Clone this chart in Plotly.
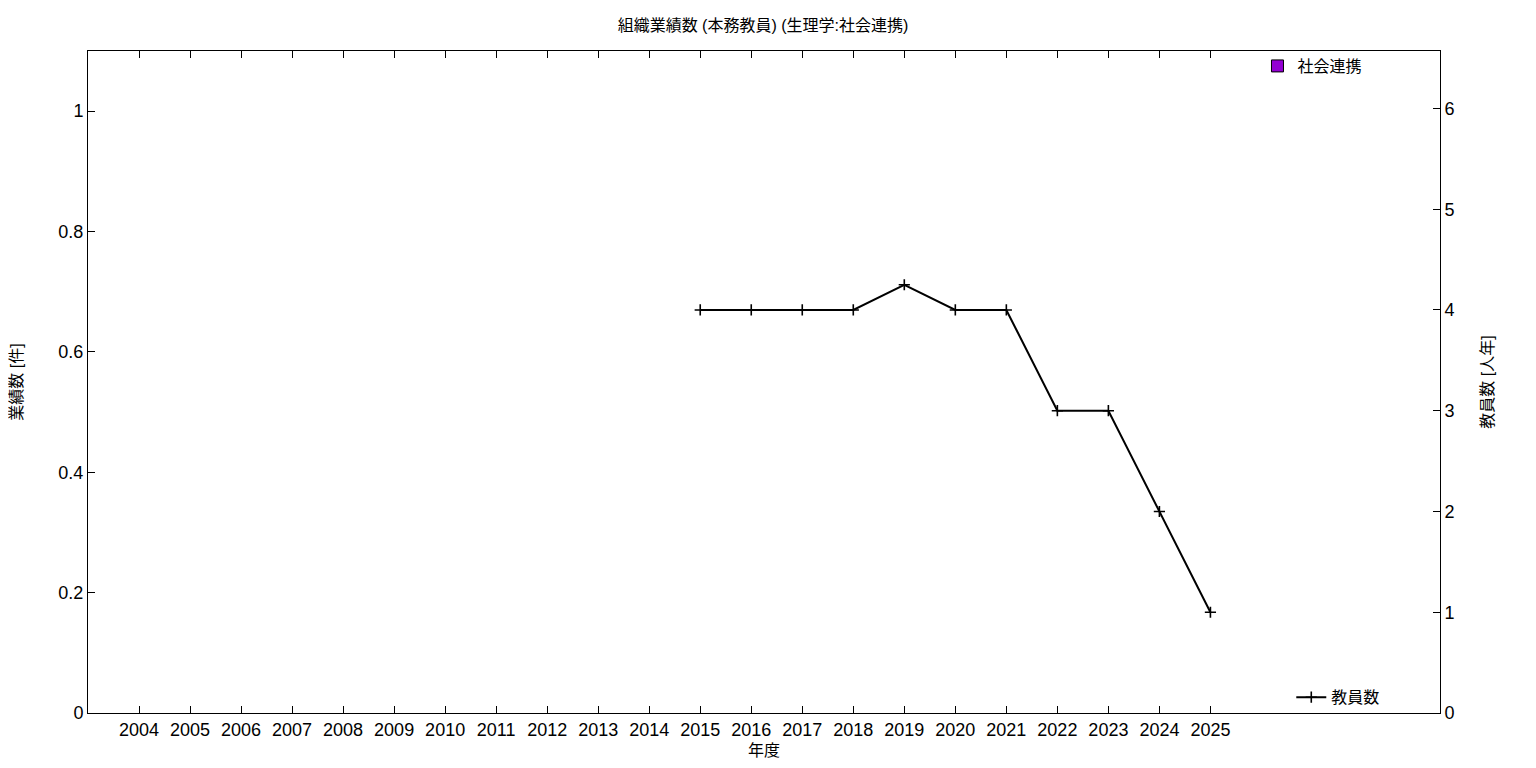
import plotly.graph_objects as go

years = list(range(2004, 2026))
tick_labels = [str(y) for y in years]
social_collab = [None] * len(years)  # 社会連携 [件] (no records)
staff = [None] * 11 + [4, 4, 4, 4, 4.25, 4, 4, 3, 3, 2, 1]  # 教員数 [人年]

FONT = "Liberation Sans, Noto Sans CJK JP, sans-serif"

W, H = 1520, 752
fig = go.Figure()
fig.add_trace(go.Bar(
    x=years, y=social_collab, name="社会連携",
    marker=dict(color="#9400D3", line=dict(color="black", width=1)),
    width=0.5, yaxis="y", legend="legend",
))
fig.add_trace(go.Scatter(
    x=years, y=staff, name="教員数", mode="lines+markers",
    line=dict(color="black", width=2),
    marker=dict(symbol="cross-thin", size=8, line=dict(color="black", width=1.6)),
    yaxis="y2", legend="legend2", connectgaps=False,
))

fig.update_layout(
    width=W, height=H,
    margin=dict(l=80, r=88, t=43, b=47, autoexpand=False),
    plot_bgcolor="white", paper_bgcolor="white",
    font=dict(family=FONT, size=17, color="black"),
    title=dict(text="組織業績数 (本務教員) (生理学:社会連携)", x=(763 - 8) / W, xanchor="center",
               y=1 - 17 / H, yanchor="middle",
               font=dict(family=FONT, size=16, color="black")),
    xaxis=dict(
        range=[2003, 2029.5], tickmode="array", tickvals=years, ticktext=tick_labels,
        ticks="inside", ticklen=7, tickcolor="black", showline=True, linecolor="black",
        linewidth=1, mirror="ticks", showgrid=False, zeroline=False, automargin=False,
        title=dict(text="年度", font=dict(size=16), standoff=6),
        tickfont=dict(size=18),
    ),
    yaxis=dict(
        range=[0, 1.1], tickmode="array", tickvals=[0, 0.2, 0.4, 0.6, 0.8, 1],
        ticktext=["0", "0.2", "0.4", "0.6", "0.8", "1"],
        ticks="inside", ticklen=7, tickcolor="black", showline=True, linecolor="black",
        linewidth=1, showgrid=False, zeroline=False, automargin=False,
        title=dict(text="業績数 [件]", font=dict(size=16), standoff=32),
        tickfont=dict(size=18),
    ),
    yaxis2=dict(
        range=[0, 6.57], overlaying="y", side="right",
        tickmode="array", tickvals=[0, 1, 2, 3, 4, 5, 6],
        ticks="inside", ticklen=7, tickcolor="black", showline=True, linecolor="black",
        linewidth=1, showgrid=False, zeroline=False, automargin=False,
        title=dict(text="教員数 [人年]", font=dict(size=16), standoff=28),
        tickfont=dict(size=18),
    ),
    legend=dict(x=0.865, y=1.003, xanchor="left", yanchor="top",
                bgcolor="rgba(0,0,0,0)", font=dict(size=16)),
    legend2=dict(x=0.89, y=-0.002, xanchor="left", yanchor="bottom",
                 bgcolor="rgba(0,0,0,0)", font=dict(size=16)),
    showlegend=True,
    bargap=0.5,
)

fig.write_html("out.html")
